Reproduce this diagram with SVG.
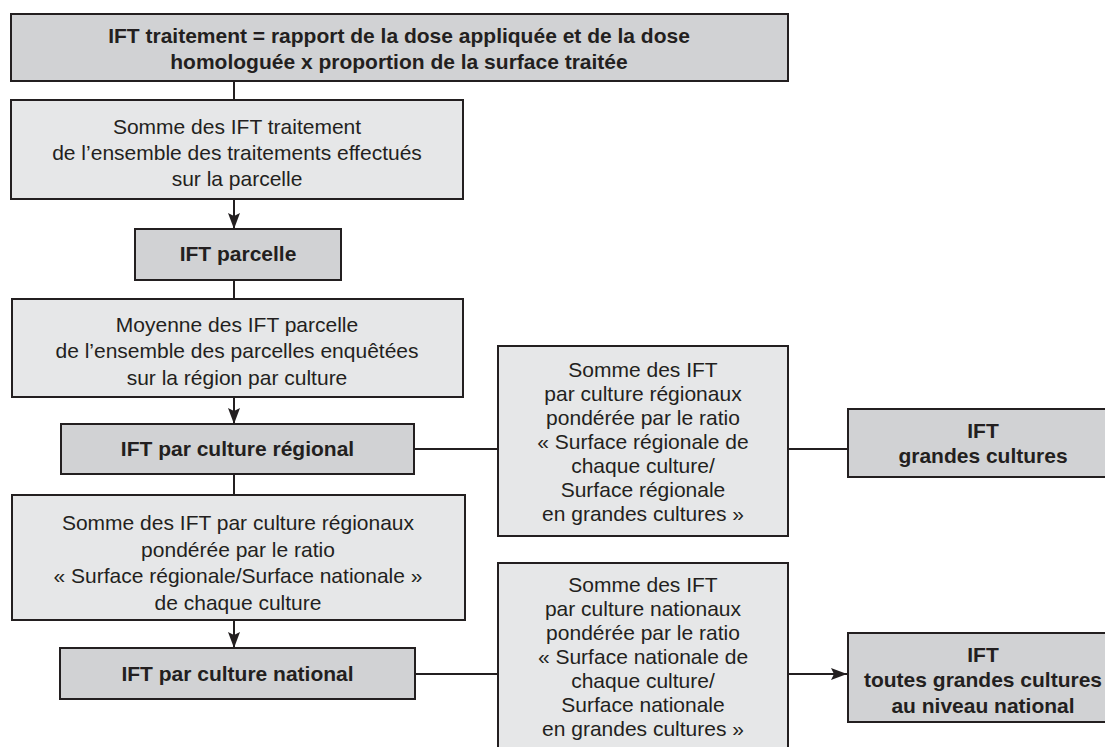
<svg xmlns="http://www.w3.org/2000/svg" width="1105" height="747" viewBox="0 0 1105 747">
<style>
  .dark { fill: #d1d2d4; stroke: #231f20; stroke-width: 2; }
  .light { fill: #e6e7e8; stroke: #231f20; stroke-width: 2; }
  .t { font-family: "Liberation Sans", Arial, sans-serif; font-size: 21px; fill: #231f20; text-anchor: middle; }
  .b { font-weight: bold; }
  .c { stroke: #231f20; stroke-width: 2; fill: none; }
</style>
<defs>
  <marker id="arr" viewBox="0 0 16 12" refX="16" refY="6" markerWidth="16" markerHeight="12" markerUnits="userSpaceOnUse" orient="auto">
    <path d="M0,0 L16,6 L0,12 L3,6 Z" fill="#231f20"/>
  </marker>
</defs>
<rect width="1105" height="747" fill="#ffffff"/>

<g id="connectors">
  <line class="c" x1="234" y1="81" x2="234" y2="100"/>
  <line class="c" x1="234" y1="199" x2="234" y2="229" marker-end="url(#arr)"/>
  <line class="c" x1="234" y1="280" x2="234" y2="299"/>
  <line class="c" x1="234" y1="397" x2="234" y2="424" marker-end="url(#arr)"/>
  <line class="c" x1="234" y1="474" x2="234" y2="495"/>
  <line class="c" x1="234" y1="620" x2="234" y2="648" marker-end="url(#arr)"/>
  <line class="c" x1="414" y1="449" x2="498" y2="449"/>
  <line class="c" x1="788" y1="449" x2="848" y2="449"/>
  <line class="c" x1="415" y1="674" x2="498" y2="674"/>
  <line class="c" x1="788" y1="674" x2="847" y2="674" marker-end="url(#arr)"/>
</g>

<g id="ift-traitement">
  <rect class="dark" x="11" y="14" width="777" height="67"/>
  <text class="t b" x="399" y="43">IFT traitement = rapport de la dose appliquée et de la dose</text>
  <text class="t b" x="399" y="69">homologuée x proportion de la surface traitée</text>
</g>

<g id="somme-traitements">
  <rect class="light" x="11" y="100" width="452" height="99"/>
  <text class="t" x="237" y="134">Somme des IFT traitement</text>
  <text class="t" x="237" y="160">de l’ensemble des traitements effectués</text>
  <text class="t" x="237" y="186">sur la parcelle</text>
</g>

<g id="ift-parcelle">
  <rect class="dark" x="135" y="229" width="206" height="51"/>
  <text class="t b" x="238" y="261">IFT parcelle</text>
</g>

<g id="moyenne-parcelles">
  <rect class="light" x="12" y="299" width="451" height="98"/>
  <text class="t" x="237" y="332">Moyenne des IFT parcelle</text>
  <text class="t" x="237" y="358">de l’ensemble des parcelles enquêtées</text>
  <text class="t" x="237" y="385">sur la région par culture</text>
</g>

<g id="ift-culture-regional">
  <rect class="dark" x="61" y="424" width="353" height="50"/>
  <text class="t b" x="237.5" y="456">IFT par culture régional</text>
</g>

<g id="somme-regionaux">
  <rect class="light" x="12" y="495" width="453" height="125"/>
  <text class="t" x="238" y="530">Somme des IFT par culture régionaux</text>
  <text class="t" x="238" y="556.5">pondérée par le ratio</text>
  <text class="t" x="238" y="583">« Surface régionale/Surface nationale »</text>
  <text class="t" x="238" y="609.5">de chaque culture</text>
</g>

<g id="ift-culture-national">
  <rect class="dark" x="60" y="648" width="355" height="51"/>
  <text class="t b" x="237.5" y="681">IFT par culture national</text>
</g>

<g id="somme-regionaux-gc">
  <rect class="light" x="498" y="346" width="290" height="190"/>
  <text class="t" x="643" y="377">Somme des IFT</text>
  <text class="t" x="643" y="401">par culture régionaux</text>
  <text class="t" x="643" y="425">pondérée par le ratio</text>
  <text class="t" x="643" y="449">« Surface régionale de</text>
  <text class="t" x="643" y="473">chaque culture/</text>
  <text class="t" x="643" y="497">Surface régionale</text>
  <text class="t" x="643" y="521">en grandes cultures »</text>
</g>

<g id="somme-nationaux-gc">
  <rect class="light" x="498" y="563" width="290" height="200"/>
  <text class="t" x="643" y="592">Somme des IFT</text>
  <text class="t" x="643" y="616">par culture nationaux</text>
  <text class="t" x="643" y="640">pondérée par le ratio</text>
  <text class="t" x="643" y="664">« Surface nationale de</text>
  <text class="t" x="643" y="688">chaque culture/</text>
  <text class="t" x="643" y="712">Surface nationale</text>
  <text class="t" x="643" y="736">en grandes cultures »</text>
</g>

<g id="ift-grandes-cultures">
  <rect class="dark" x="848" y="409" width="270" height="68"/>
  <text class="t b" x="983" y="438">IFT</text>
  <text class="t b" x="983" y="463">grandes cultures</text>
</g>

<g id="ift-toutes-grandes-cultures">
  <rect class="dark" x="848" y="633" width="270" height="89"/>
  <text class="t b" x="983" y="662">IFT</text>
  <text class="t b" x="983" y="687">toutes grandes cultures</text>
  <text class="t b" x="983" y="713">au niveau national</text>
</g>
</svg>
